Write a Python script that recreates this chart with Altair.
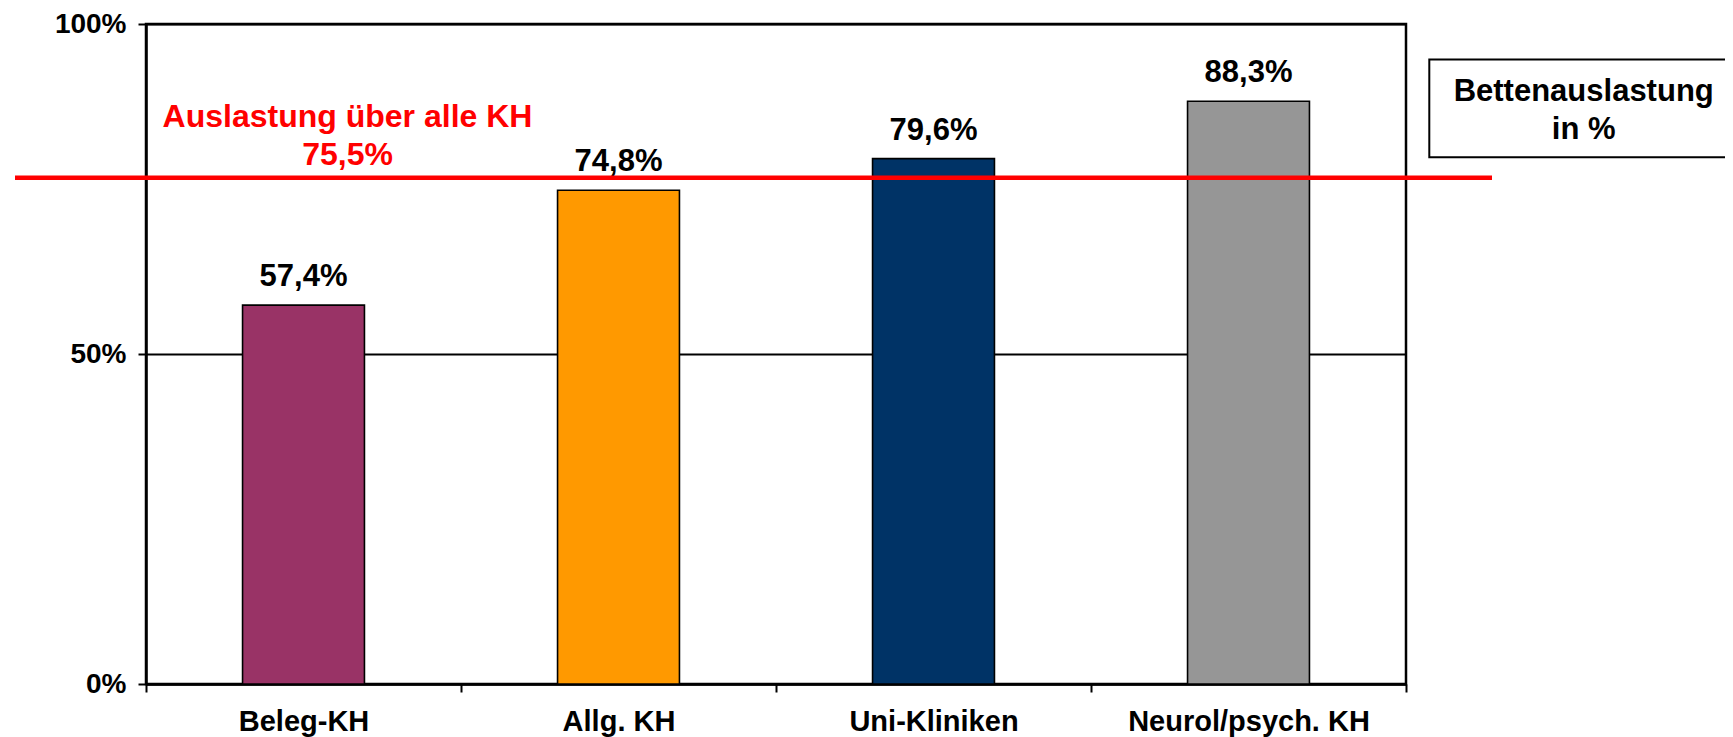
import altair as alt
import pandas as pd

categories = ["Beleg-KH", "Allg. KH", "Uni-Kliniken", "Neurol/psych. KH"]
values = [57.4, 74.8, 79.6, 88.3]
value_labels = ["57,4%", "74,8%", "79,6%", "88,3%"]
colors = ["#993366", "#FF9900", "#003366", "#969696"]
avg_line = [76.7]
avg_label = ["Auslastung über alle KH\n75,5%"]
box_label = ["Bettenauslastung\nin %"]
y_ticks = [0, 50, 100]

FONT = "Liberation Sans"

df = pd.DataFrame({"cat": categories, "val": values, "lab": value_labels, "col": colors})
df_line = pd.DataFrame({"val": avg_line, "lab": avg_label})
df_box = pd.DataFrame({"lab": box_label})

x_enc = alt.X("cat:N", sort=categories, title=None,
              scale=alt.Scale(paddingInner=0, paddingOuter=0),
              axis=alt.Axis(labelAngle=0, tickBand="extent", tickSize=8, tickWidth=2,
                            tickColor="black", domainColor="black", domainWidth=2.5,
                            labelFont=FONT, labelFontSize=29, labelFontWeight="bold",
                            labelColor="black", labelPadding=15, labelLimit=0))
y_enc = alt.Y("val:Q", title=None,
              scale=alt.Scale(domain=[0, 100], nice=False),
              axis=alt.Axis(values=y_ticks, labelExpr="datum.value + '%'",
                            tickSize=8, tickWidth=2, tickColor="black",
                            domainColor="black", domainWidth=2.5,
                            grid=True, gridColor="black", gridWidth=1.8,
                            labelFont=FONT, labelFontSize=28, labelFontWeight="bold",
                            labelColor="black", labelPadding=12))

bars = alt.Chart(df).mark_bar(
    width=alt.RelativeBandSize(0.387), stroke="black", strokeWidth=1.6
).encode(
    x=x_enc, y=y_enc,
    color=alt.Color("col:N", scale=None, legend=None),
)

texts = alt.Chart(df).mark_text(
    font=FONT, fontSize=31, fontWeight="bold", color="black",
    baseline="alphabetic", dy=-19
).encode(x=alt.X("cat:N", sort=categories), y="val:Q", text="lab:N")

rule = alt.Chart(df_line).mark_rule(color="#FF0000", strokeWidth=4.5).encode(
    y="val:Q", x=alt.value(-131), x2=alt.value(1346)
)

red_text = alt.Chart(df_line).mark_text(
    font=FONT, fontSize=32, fontWeight="bold", color="#FF0000",
    baseline="alphabetic", align="center", lineBreak="\n", lineHeight=37.7, dy=-50.5
).encode(x=alt.value(201.5), y="val:Q", text="lab:N")

box = alt.Chart(df_box).mark_rect(fill="white", stroke="black", strokeWidth=2).encode(
    x=alt.value(1283.3), x2=alt.value(1600), y=alt.value(35.5), y2=alt.value(133.2)
)

box_text = alt.Chart(df_box).mark_text(
    font=FONT, fontSize=31, fontWeight="bold", color="black",
    baseline="alphabetic", align="center", lineBreak="\n", lineHeight=37.7
).encode(x=alt.value(1437.7), y=alt.value(77.2), text="lab:N")

chart = alt.layer(bars, texts, rule, red_text, box, box_text).properties(
    width=1260, height=660,
    autosize=alt.AutoSizeParams(type="none"),
    padding={"left": 138, "top": 16, "right": 319, "bottom": 56},
    background="white",
).configure_view(stroke="black", strokeWidth=2.5)

chart.save("out.html", embed_options={"renderer": "svg", "actions": False})
